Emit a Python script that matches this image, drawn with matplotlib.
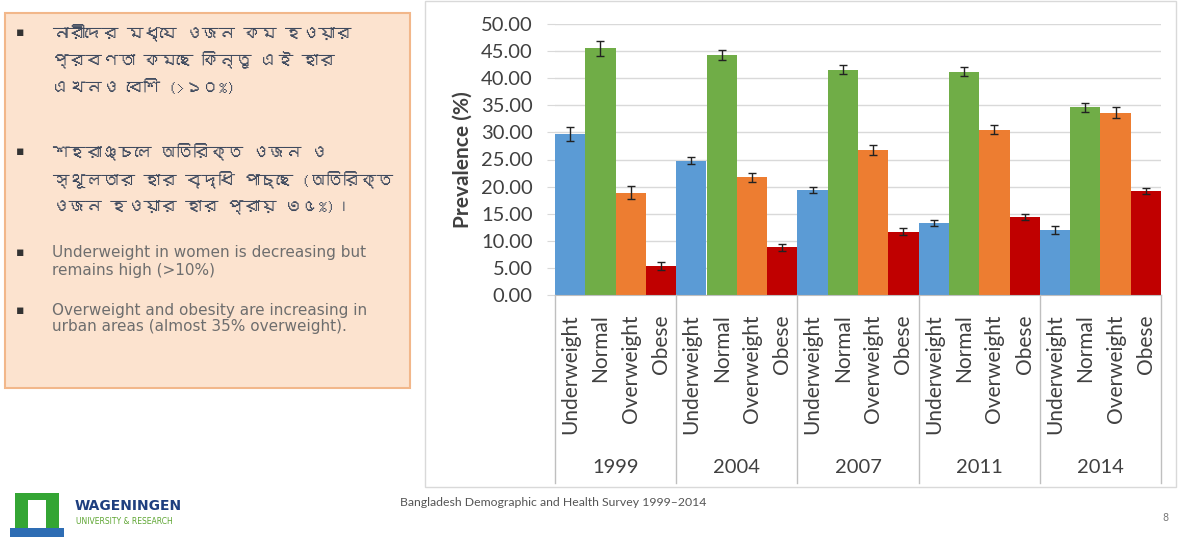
import numpy as np
import matplotlib.pyplot as plt
from matplotlib import font_manager, ft2font
from matplotlib.patches import Rectangle
from matplotlib.transforms import blended_transform_factory

years = ["1999", "2004", "2007", "2011", "2014"]
categories = ["Underweight", "Normal", "Overweight", "Obese"]
underweight = [29.7, 24.8, 19.4, 13.3, 12.0]
normal = [45.5, 44.3, 41.6, 41.2, 34.6]
overweight = [18.9, 21.7, 26.8, 30.5, 33.6]
obese = [5.4, 8.8, 11.7, 14.4, 19.2]
err_underweight = [1.3, 0.7, 0.6, 0.6, 0.7]
err_normal = [1.4, 0.9, 0.8, 0.8, 0.8]
err_overweight = [1.2, 0.8, 0.9, 0.8, 1.0]
err_obese = [0.7, 0.6, 0.6, 0.5, 0.5]
colors = ["#5B9BD5", "#70AD47", "#ED7D31", "#C00000"]

bn_lines_1 = ["নারীদের মধ্যে ওজন কম হওয়ার",
              "প্রবণতা কমছে কিন্তু এই হার",
              "এখনও বেশি (>১০%)"]
bn_lines_2 = ["শহরাঞ্চলে অতিরিক্ত ওজন ও",
              "স্থূলতার হার বৃদ্ধি পাচ্ছে (অতিরিক্ত",
              "ওজন হওয়ার হার প্রায় ৩৫%)।"]
en_lines_1 = ["Underweight in women is decreasing but", "remains high (>10%)"]
en_lines_2 = ["Overweight and obesity are increasing in",
              "urban areas (almost 35% overweight)."]
source = "Bangladesh Demographic and Health Survey 1999\u20132014"


def find_bengali_font():
    for f in font_manager.fontManager.ttflist:
        try:
            if 0x09A8 in ft2font.FT2Font(f.fname).get_charmap():
                return f.name
        except Exception:
            pass
    return "Noto Sans"


bn_font = [find_bengali_font(), "DejaVu Sans"]

W, H = 1179, 537
fig = plt.figure(figsize=(W / 100, H / 100), dpi=100)


def fx(x):
    return x / W


def fy(y):
    return 1 - y / H


# left text panel
fig.patches.append(Rectangle((fx(5), fy(388)), fx(405), (388 - 13) / H,
                             transform=fig.transFigure, facecolor="#FCE3CF",
                             edgecolor="#F2B78A", lw=1.5, zorder=-2))
# chart frame
fig.patches.append(Rectangle((fx(425), fy(487)), fx(751), 486 / H,
                             transform=fig.transFigure, facecolor="white",
                             edgecolor="#D9D9D9", lw=1, zorder=-2))

for i, line in enumerate(bn_lines_1):
    fig.text(fx(52), fy(33 + i * 27), line, family=bn_font, fontsize=12,
             color="#3F4A5E", va="center")
for i, line in enumerate(bn_lines_2):
    fig.text(fx(52), fy(152 + i * 28), line, family=bn_font, fontsize=12,
             color="#3F4A5E", va="center")
for i, line in enumerate(en_lines_1):
    fig.text(fx(52), fy(253 + i * 17), line, fontsize=11, family="DejaVu Sans",
             color="#6E6E6E", va="center")
for i, line in enumerate(en_lines_2):
    fig.text(fx(52), fy(310 + i * 17), line, fontsize=11, family="DejaVu Sans",
             color="#6E6E6E", va="center")
for y in [33, 152, 253, 310]:
    fig.text(fx(20), fy(y), "\u25aa", fontsize=9, color="#333333", va="center", ha="center")

# chart
ax = fig.add_axes([fx(555), fy(295), fx(606), (295 - 24) / H])
series = [underweight, normal, overweight, obese]
errs = [err_underweight, err_normal, err_overweight, err_obese]
n = len(categories)
base = np.arange(len(years)) * n
for j, (vals, e) in enumerate(zip(series, errs)):
    ax.bar(base + j, vals, width=1.0, color=colors[j], zorder=2,
           yerr=e, capsize=3, error_kw=dict(ecolor="#222222", elinewidth=1, capthick=1))

ax.set_xlim(-0.5, len(years) * n - 0.5)
ax.set_ylim(0, 50)
ax.set_yticks(np.arange(0, 50.01, 5))
ax.yaxis.set_major_formatter(plt.FormatStrFormatter("%.2f"))
ax.grid(axis="y", color="#D9D9D9", lw=1, zorder=0)
for s in ["top", "right", "left"]:
    ax.spines[s].set_visible(False)
ax.spines["bottom"].set_color("#BFBFBF")
ax.tick_params(axis="y", length=6, color="#D9D9D9", labelsize=14.5, labelcolor="#404040", pad=10)
ax.set_xticks(np.arange(len(years) * n))
ax.set_xticklabels(categories * len(years), rotation=90, va="top", ha="center")
ax.tick_params(axis="x", length=0, labelsize=15, labelcolor="#404040", pad=14)
for lbl in ax.get_xticklabels() + ax.get_yticklabels():
    lbl.set_family("Lato")
ax.set_ylabel("Prevalence (%)", fontsize=15, fontweight="bold", family="Lato",
              color="#404040", labelpad=6)

tr = blended_transform_factory(ax.transData, ax.transAxes)
for k in range(len(years) + 1):
    ax.plot([k * n - 0.5, k * n - 0.5], [0, -0.695], transform=tr, color="#BFBFBF",
            lw=1, clip_on=False)
for k, yr in enumerate(years):
    ax.text(k * n + 1.5, -0.635, yr, transform=tr, ha="center", va="center",
            fontsize=14.5, family="Lato", color="#404040")

# footer
fig.text(fx(400), fy(502), source, fontsize=8.8, family="Lato", color="#555555", va="center")
fig.text(fx(1165), fy(518), "8", fontsize=7, color="#777777", va="center", ha="center")
fig.patches.append(Rectangle((fx(15), fy(528)), fx(44), 35 / H, transform=fig.transFigure,
                             facecolor="#34A534", edgecolor="none"))
fig.patches.append(Rectangle((fx(28), fy(528)), fx(18), 28 / H, transform=fig.transFigure,
                             facecolor="white", edgecolor="none"))
fig.patches.append(Rectangle((fx(10), fy(537)), fx(54), 9 / H, transform=fig.transFigure,
                             facecolor="#2E6DB4", edgecolor="none"))
fig.text(fx(75), fy(506), "WAGENINGEN", fontsize=10, fontweight="bold", color="#1F3F7F",
         va="center", family="DejaVu Sans")
fig.text(fx(76), fy(521), "UNIVERSITY & RESEARCH", fontsize=5.5, color="#5DA531",
         va="center", family="DejaVu Sans")

fig.savefig("out.png", dpi=100)
